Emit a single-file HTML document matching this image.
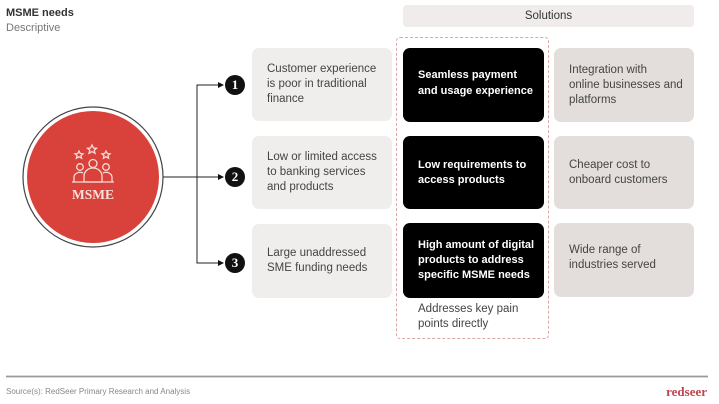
<!DOCTYPE html>
<html><head><meta charset="utf-8"><style>
*{margin:0;padding:0;box-sizing:border-box}
body{width:719px;height:404px;background:#fff;position:relative;overflow:hidden;font-family:"Liberation Sans",sans-serif}
.a{position:absolute}
.box{position:absolute;display:flex;align-items:center;border-radius:7px;font-size:11.5px;line-height:15px}
.l{background:#f0eeed;color:#444;left:252px;width:140px;padding-left:15px}
.b{background:#000;color:#fff;left:403px;width:141px;padding-left:15px;font-weight:bold;font-size:11px}
.r{background:#e3dedb;color:#444;left:554px;width:140px;padding-left:15px}
.num{position:absolute;width:20px;height:20px;border-radius:50%;background:#111;color:#fff;font-weight:bold;font-size:13px;text-align:center;line-height:20px;font-family:"Liberation Serif",serif}
</style></head><body>
<div class="a" style="left:6px;top:7px;font-size:11px;font-weight:bold;color:#333">MSME needs</div>
<div class="a" style="left:6px;top:22px;font-size:11px;color:#777">Descriptive</div>

<div class="a" style="left:403px;top:5px;width:291px;height:22px;background:#efeceb;border-radius:4px;font-size:11.5px;color:#333;text-align:center;line-height:22px">Solutions</div>

<div class="a" style="left:396px;top:37px;width:153px;height:302px;border:1.5px dashed #dba6a6;border-radius:4px"></div>

<div class="box l" style="top:48px;height:73px">Customer experience<br>is poor in traditional<br>finance</div>
<div class="box l" style="top:136px;height:73px">Low or limited access<br>to banking services<br>and products</div>
<div class="box l" style="top:224px;height:74px">Large unaddressed<br>SME funding needs</div>

<div class="box b" style="top:48px;height:74px;padding-bottom:4px;line-height:16px">Seamless payment<br>and usage experience</div>
<div class="box b" style="top:136px;height:73px">Low requirements to<br>access products</div>
<div class="box b" style="top:223px;height:75px">High amount of digital<br>products to address<br>specific MSME needs</div>

<div class="box r" style="top:48px;height:74px">Integration with<br>online businesses and<br>platforms</div>
<div class="box r" style="top:136px;height:73px">Cheaper cost to<br>onboard customers</div>
<div class="box r" style="top:223px;height:74px;padding-bottom:4px">Wide range of<br>industries served</div>

<div class="a" style="left:418px;top:302px;font-size:11.5px;line-height:15px;color:#444">Addresses key pain<br>points directly</div>

<svg class="a" style="left:0;top:0" width="719" height="404">
<circle cx="93" cy="177" r="70" fill="#fff" stroke="#444" stroke-width="1.2"/>
<circle cx="93" cy="177" r="66" fill="#d9423a"/>
<g fill="none" stroke="#f6dcd8" stroke-width="1.3">
<polygon points="92,145 93.5,148 96.5,148.3 94.2,150.3 95,153.3 92,151.6 89,153.3 89.8,150.3 87.5,148.3 90.5,148"/>
<polygon points="79,151 80.3,153.5 83,153.8 81,155.6 81.6,158.2 79,156.8 76.4,158.2 77,155.6 75,153.8 77.7,153.5"/>
<polygon points="106,151 107.3,153.5 110,153.8 108,155.6 108.6,158.2 106,156.8 103.4,158.2 104,155.6 102,153.8 104.7,153.5"/>
<circle cx="93" cy="163.5" r="4"/>
<circle cx="80" cy="167" r="3.3"/>
<circle cx="106" cy="167" r="3.3"/>
<path d="M84,182 v-6 a9,8 0 0 1 18,0 v6 z"/>
<path d="M74,182 v-5 a6,5 0 0 1 9,-4"/>
<path d="M112,182 v-5 a6,5 0 0 0 -9,-4"/>
<line x1="72" y1="182" x2="114" y2="182"/>
</g>
<text x="93" y="199" text-anchor="middle" font-family="Liberation Serif,serif" font-weight="bold" font-size="13.5" fill="#f6e2de">MSME</text>

<g stroke="#222" stroke-width="1" fill="none">
<line x1="163" y1="177" x2="220" y2="177"/>
<polyline points="220,85 197,85 197,263 220,263"/>
</g>
<g fill="#111">
<polygon points="218,82 224,85 218,88"/>
<polygon points="218,174 224,177 218,180"/>
<polygon points="218,260 224,263 218,266"/>
</g>
<line x1="6" y1="376.5" x2="708" y2="376.5" stroke="#9a9a9a" stroke-width="1.8"/>
<text x="707" y="396" text-anchor="end" font-family="Liberation Serif,serif" font-weight="bold" font-size="13" fill="#c0444f">redseer</text>
</svg>

<div class="num" style="left:225px;top:75px">1</div>
<div class="num" style="left:225px;top:167px">2</div>
<div class="num" style="left:225px;top:253px">3</div>

<div class="a" style="left:6px;top:387px;font-size:8px;color:#888">Source(s): RedSeer Primary Research and Analysis</div>
</body></html>
